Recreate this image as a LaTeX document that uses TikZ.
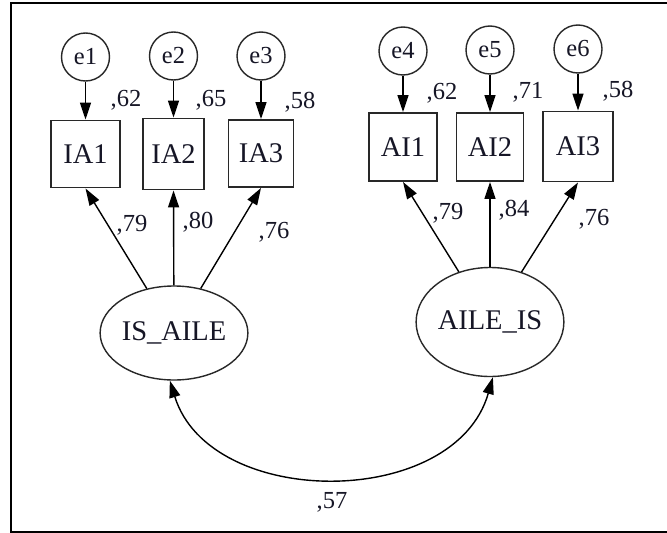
\documentclass[tikz,border=0pt]{standalone}
\usepackage{fontspec}
\setmainfont{Liberation Serif}
\usetikzlibrary{shapes.geometric,arrows.meta}
\definecolor{ink}{RGB}{22,22,38}
\definecolor{edge}{RGB}{40,40,40}
\tikzset{
  obsbox/.style={draw=edge,line width=1.9pt,rectangle,inner sep=0pt,font=\fontsize{28.5}{30}\selectfont,text=ink},
  errcirc/.style={draw=edge,line width=1.4pt,circle,minimum size=48pt,inner sep=0pt,font=\fontsize{24.5}{26}\selectfont,text=ink},
  latent/.style={draw=edge,line width=1.4pt,ellipse,inner sep=0pt,font=\fontsize{28.5}{30}\selectfont,text=ink},
  coef/.style={font=\fontsize{24.5}{26}\selectfont,text=ink,inner sep=0pt},
  tip/.style={},
  arr/.style={draw=black,line width=1.4pt,-{Triangle[length=17pt,width=11pt]}},
  biarr/.style={draw=black,line width=1.4pt,{Triangle[length=17pt,width=11pt]}-{Triangle[length=17pt,width=11pt]}},
  frame/.style={draw=black,line width=2pt}
}
\begin{document}
\begin{tikzpicture}[x=1pt,y=-1pt]
\useasboundingbox (0,0) rectangle (667,533);
\fill[white] (0,0) rectangle (667,533);
% outer frame (right side runs past the page edge)
\draw[frame] (672,2.7) -- (10.5,2.7) -- (10.5,531.5) -- (672,531.5);

% latent variables
\node[latent,minimum width=132pt,minimum height=94pt] (isaile) at (174,333) {IS\_AILE};
\node[latent,minimum width=128pt,minimum height=109pt] (aileis) at (490,322) {AILE\_IS};

% observed indicators
\node[obsbox,minimum width=69pt,minimum height=67pt] (ia1) at (85.5,154) {IA1};
\node[obsbox,minimum width=61pt,minimum height=71pt] (ia2) at (173.5,154) {IA2};
\node[obsbox,minimum width=65pt,minimum height=67pt] (ia3) at (261,153.5) {IA3};
\node[obsbox,minimum width=68pt,minimum height=68pt] (ai1) at (403,147) {AI1};
\node[obsbox,minimum width=67pt,minimum height=68pt] (ai2) at (490,147) {AI2};
\node[obsbox,minimum width=70pt,minimum height=70pt] (ai3) at (578,146.5) {AI3};

% error terms
\node[errcirc] (e1) at (85.5,57) {e1};
\node[errcirc] (e2) at (173.5,56) {e2};
\node[errcirc] (e3) at (261,56) {e3};
\node[errcirc] (e4) at (403,51) {e4};
\node[errcirc] (e5) at (490,50) {e5};
\node[errcirc] (e6) at (578,49) {e6};

% error paths
\draw[arr] (e1) -- (ia1);
\draw[arr] (e2) -- (ia2);
\draw[arr] (e3) -- (ia3);
\draw[arr] (e4) -- (ai1);
\draw[arr] (e5) -- (ai2);
\draw[arr] (e6) -- (ai3);

% loadings
\draw[arr] (isaile) -- (ia1.south);
\draw[arr] (isaile) -- (ia2.south);
\draw[arr] (isaile) -- (ia3.south);
\draw[arr] (aileis) -- (ai1.south);
\draw[arr] (aileis) -- (ai2.south);
\draw[arr] (aileis) -- (ai3.south);

% covariance
\draw[biarr] (isaile.-95) .. controls (210,510) and (455,510) .. (aileis.-87);

% squared multiple correlations
\node[coef] (r1) at (126,100) {,62};
\node[coef] (r2) at (211,100) {,65};
\node[coef] (r3) at (300,102) {,58};
\node[coef] (r4) at (442,93) {,62};
\node[coef] (r5) at (528,92) {,71};
\node[coef] (r6) at (618,91) {,58};

% standardized loadings
\node[coef] (w1) at (132,225) {,79};
\node[coef] (w2) at (198,222) {,80};
\node[coef] (w3) at (274,232) {,76};
\node[coef] (w4) at (448,213) {,79};
\node[coef] (w5) at (514,210) {,84};
\node[coef] (w6) at (594,219) {,76};

% correlation
\node[coef] (c1) at (332,502) {,57};
\end{tikzpicture}
\end{document}
